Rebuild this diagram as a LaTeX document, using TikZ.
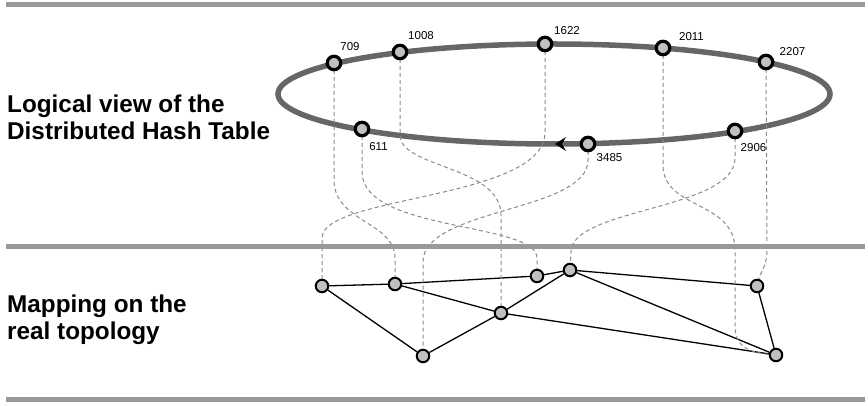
\documentclass[tikz,border=0pt]{standalone}
\usepackage{fontspec}
\setmainfont{Liberation Sans}
\usetikzlibrary{arrows.meta}

\definecolor{bandgray}{HTML}{999999}
\definecolor{ringgray}{HTML}{666666}
\definecolor{nodefill}{HTML}{C0C0C0}
\definecolor{linkgray}{HTML}{8A8A8A}

\pgfdeclarelayer{background}
\pgfdeclarelayer{wires}
\pgfsetlayers{background,wires,main}

\tikzset{
  band/.style={line width=5pt, draw=bandgray},
  ring/.style={line width=5.5pt, draw=ringgray},
  peer/.style={circle, draw=black, fill=nodefill, line width=3.2pt, minimum size=13.5pt, inner sep=0pt},
  host/.style={circle, draw=black, fill=nodefill, line width=2pt, minimum size=12.5pt, inner sep=0pt},
  idlabel/.style={font=\fontsize{11.5}{13}\selectfont, inner sep=0pt},
  mapping/.style={draw=linkgray, line width=1pt, dash pattern=on 4pt off 3pt},
  link/.style={draw=black, line width=1.3pt},
  caption/.style={font=\bfseries\fontsize{24.3}{27}\selectfont, align=left, anchor=north west, inner sep=0pt},
}

\begin{document}
\begin{tikzpicture}[x=1pt, y=-1pt]
\useasboundingbox (0,0) rectangle (868,406);

% section separators
\draw[band] (6,4.8) -- (865,4.8);
\draw[band] (6,247) -- (865,247);
\draw[band] (6,399) -- (865,399);

% captions
\node[caption] (dhtcap) at (7,94.5) {Logical view of the\\Distributed Hash Table};
\node[caption] (topocap) at (7,294.5) {Mapping on the\\real topology};

% DHT ring
\begin{pgfonlayer}{background}
\draw[ring] (554,94) ellipse [x radius=276pt, y radius=50pt];
\end{pgfonlayer}
\fill[black] (555,144) -- (566,137) -- (562,144) -- (566,151) -- cycle;

% peers on the ring
\node[peer] (p709)  at (334,63)  {};
\node[peer] (p1008) at (400,52)  {};
\node[peer] (p1622) at (545,44)  {};
\node[peer] (p2011) at (663,48)  {};
\node[peer] (p2207) at (766,62)  {};
\node[peer] (p2906) at (735,131) {};
\node[peer] (p3485) at (588,144) {};
\node[peer] (p611)  at (362,129) {};

\node[idlabel] (l709)  at (350,46.5)  {709};
\node[idlabel] (l1008) at (421,36)    {1008};
\node[idlabel] (l1622) at (567,31)    {1622};
\node[idlabel] (l2011) at (691.5,36.5){2011};
\node[idlabel] (l2207) at (792.5,51.5){2207};
\node[idlabel] (l2906) at (753.5,148) {2906};
\node[idlabel] (l3485) at (609.5,158) {3485};
\node[idlabel] (l611)  at (378.5,147) {611};

% hosts of the physical network
\node[host] (hA) at (322,286) {};
\node[host] (hB) at (395,284) {};
\node[host] (hC) at (537,276) {};
\node[host] (hD) at (570,270) {};
\node[host] (hE) at (501,313) {};
\node[host] (hF) at (423,356) {};
\node[host] (hG) at (757,286) {};
\node[host] (hH) at (776,355) {};

\begin{pgfonlayer}{wires}
% physical links
\draw[link] (hA) -- (hB);
\draw[link] (hA) -- (hF);
\draw[link] (hB) -- (hC);
\draw[link] (hB) -- (hE);
\draw[link] (hC) -- (hD);
\draw[link] (hE) -- (hF);
\draw[link] (hE) -- (hD);
\draw[link] (hE) -- (hH);
\draw[link] (hD) -- (hG);
\draw[link] (hD) -- (hH);
\draw[link] (hG) -- (hH);

% peer-to-host mapping
\draw[mapping] (p709.center) -- (334,180) .. controls (334,222) and (395,222) .. (395,258) -- (hB.center);
\draw[mapping] (p611.center) -- (362,172) .. controls (362,232) and (537,222) .. (537,258) -- (hC.center);
\draw[mapping] (p1008.center) -- (400,135) .. controls (400,168) and (501,166) .. (501,215) -- (hE.center);
\draw[mapping] (p1622.center) -- (545,132) .. controls (545,200) and (322,195) .. (322,238) -- (hA.center);
\draw[mapping] (p3485.center) -- (588,160) .. controls (588,212) and (423,208) .. (423,262) -- (hF.center);
\draw[mapping] (p2011.center) -- (663,165) .. controls (663,210) and (735,200) .. (735,250) -- (735,325) .. controls (735,345) and (745,353) .. (hH.center);
\draw[mapping] (p2906.center) -- (735,158) .. controls (735,210) and (571,208) .. (571,252) -- (hD.center);
\draw[mapping] (p2207.center) -- (767,250) .. controls (767,268) and (759,272) .. (hG.center);
\end{pgfonlayer}
\end{tikzpicture}
\end{document}
